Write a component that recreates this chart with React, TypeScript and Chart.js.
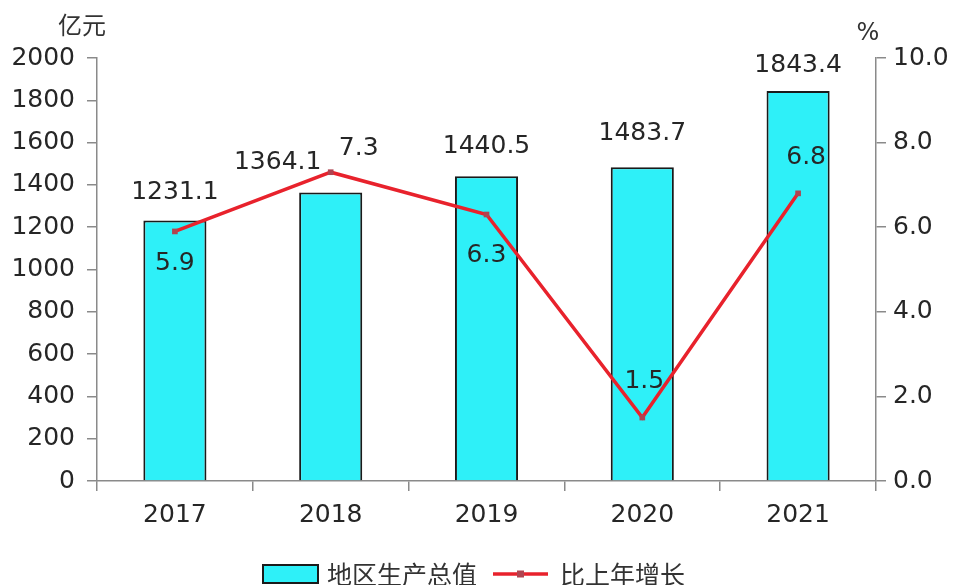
import { useEffect, useRef } from "react";
import { Chart, registerables } from "chart.js";

Chart.register(...registerables);

const years = ["2017", "2018", "2019", "2020", "2021"];
const gdpValues = [1231.1, 1364.1, 1440.5, 1483.7, 1843.4];
const growthValues = [5.9, 7.3, 6.3, 1.5, 6.8];
const gdpName = "地区生产总值";
const growthName = "比上年增长";
const leftUnit = "亿元";
const rightUnit = "%";

// label offsets (style only): [dx, dy] from the mark anchor
const gdpLabelOffsets = [[0, -28], [-53, -30], [0, -30], [0, -34], [0, -26]];
const growthLabelOffsets = [[0, 32], [28, -24], [0, 41], [2, -36], [8, -36]];

const FONT = "'DejaVu Sans', 'Noto Sans CJK SC', sans-serif";
const CJK = "'Noto Sans CJK SC', 'DejaVu Sans', sans-serif";
const TEXT = "#262626";
const AXIS = "#8a8a8a";
const CYAN = "#2ef0f8";
const RED = "#e8222c";
const MARK = "#b04450";

const overlay = {
  id: "overlay",
  afterDatasetsDraw(chart: any) {
    const ctx = chart.ctx;
    ctx.save();
    ctx.fillStyle = TEXT;
    ctx.textAlign = "center";
    ctx.textBaseline = "middle";
    ctx.font = `25px ${FONT}`;
    const barMeta = chart.getDatasetMeta(0);
    barMeta.data.forEach((el: any, i: number) => {
      const [dx, dy] = gdpLabelOffsets[i];
      ctx.fillText(gdpValues[i].toFixed(1), el.x + dx, el.y + dy);
    });
    const lineMeta = chart.getDatasetMeta(1);
    lineMeta.data.forEach((el: any, i: number) => {
      const [dx, dy] = growthLabelOffsets[i];
      ctx.fillText(growthValues[i].toFixed(1), el.x + dx, el.y + dy);
    });
    ctx.restore();
  },
  afterDraw(chart: any) {
    const ctx = chart.ctx;
    const area = chart.chartArea;
    ctx.save();
    ctx.fillStyle = "#333";
    ctx.textBaseline = "middle";
    ctx.textAlign = "center";
    ctx.font = `24px ${CJK}`;
    ctx.fillText(leftUnit, area.left - 15, 25);
    ctx.font = `24px ${FONT}`;
    ctx.fillText(rightUnit, area.right - 8, 34);

    // legend
    const cy = 574;
    const startX = 263;
    ctx.fillStyle = CYAN;
    ctx.fillRect(startX, cy - 9, 55, 18);
    ctx.strokeStyle = "#1a1a1a";
    ctx.lineWidth = 2;
    ctx.strokeRect(startX, cy - 9, 55, 18);
    ctx.fillStyle = "#333";
    ctx.textAlign = "left";
    ctx.font = `25px ${CJK}`;
    ctx.fillText(gdpName, 327, cy);
    ctx.strokeStyle = RED;
    ctx.lineWidth = 3.5;
    ctx.beginPath();
    ctx.moveTo(493, cy);
    ctx.lineTo(548, cy);
    ctx.stroke();
    ctx.fillStyle = MARK;
    ctx.fillRect(517, cy - 3.5, 7, 7);
    ctx.fillStyle = "#333";
    ctx.fillText(growthName, 560, cy);
    ctx.restore();
  },
};

export default function App() {
  const ref = useRef<HTMLCanvasElement | null>(null);
  useEffect(() => {
    if (!ref.current) return;
    const chart = new Chart(ref.current, {
      type: "bar",
      data: {
        labels: years,
        datasets: [
          {
            type: "bar",
            label: gdpName,
            data: gdpValues,
            yAxisID: "y",
            backgroundColor: CYAN,
            borderColor: "#1a1a1a",
            borderWidth: 2,
            barPercentage: 0.5,
            categoryPercentage: 0.81,
            order: 2,
          },
          {
            type: "line",
            label: growthName,
            data: growthValues,
            yAxisID: "y1",
            borderColor: RED,
            borderWidth: 3.5,
            pointStyle: "rect",
            pointRadius: 4,
            pointBackgroundColor: MARK,
            pointBorderWidth: 0,
            tension: 0,
            order: 1,
          },
        ] as any,
      },
      options: {
        responsive: false,
        animation: false,
        devicePixelRatio: 1,
        layout: { padding: { top: 58, left: 0, right: 0, bottom: 0 } },
        plugins: {
          legend: { display: false },
          tooltip: { enabled: false },
        },
        scales: {
          x: {
            offset: true,
            grid: {
              offset: true,
              drawOnChartArea: false,
              drawTicks: true,
              tickLength: 10,
              color: AXIS,
              lineWidth: 1.5,
            },
            border: { color: AXIS, width: 1.5 },
            ticks: {
              color: TEXT,
              font: { family: FONT, size: 25 },
              padding: 9,
            },
            afterFit(scale: any) {
              scale.height = 104;
            },
          },
          y: {
            position: "left",
            min: 0,
            max: 2000,
            ticks: {
              stepSize: 200,
              color: TEXT,
              font: { family: FONT, size: 25 },
              padding: 12,
              callback: (v: any) => String(v),
            },
            grid: {
              drawOnChartArea: false,
              drawTicks: true,
              tickLength: 10,
              color: AXIS,
              lineWidth: 1.5,
            },
            border: { color: AXIS, width: 1.5 },
            afterFit(scale: any) {
              scale.width = 97;
            },
          },
          y1: {
            position: "right",
            min: 0,
            max: 10,
            ticks: {
              stepSize: 2,
              color: TEXT,
              font: { family: FONT, size: 25 },
              padding: 7,
              callback: (v: any) => Number(v).toFixed(1),
            },
            grid: {
              drawOnChartArea: false,
              drawTicks: true,
              tickLength: 10,
              color: AXIS,
              lineWidth: 1.5,
            },
            border: { color: AXIS, width: 1.5 },
            afterFit(scale: any) {
              scale.width = 77;
            },
          },
        },
      } as any,
      plugins: [overlay],
    });
    return () => chart.destroy();
  }, []);
  return (
    <div style={{ position: "fixed", left: 0, top: 0, width: 953, height: 585, background: "#fff" }}>
      <canvas ref={ref} width={953} height={585} style={{ display: "block" }} />
    </div>
  );
}
